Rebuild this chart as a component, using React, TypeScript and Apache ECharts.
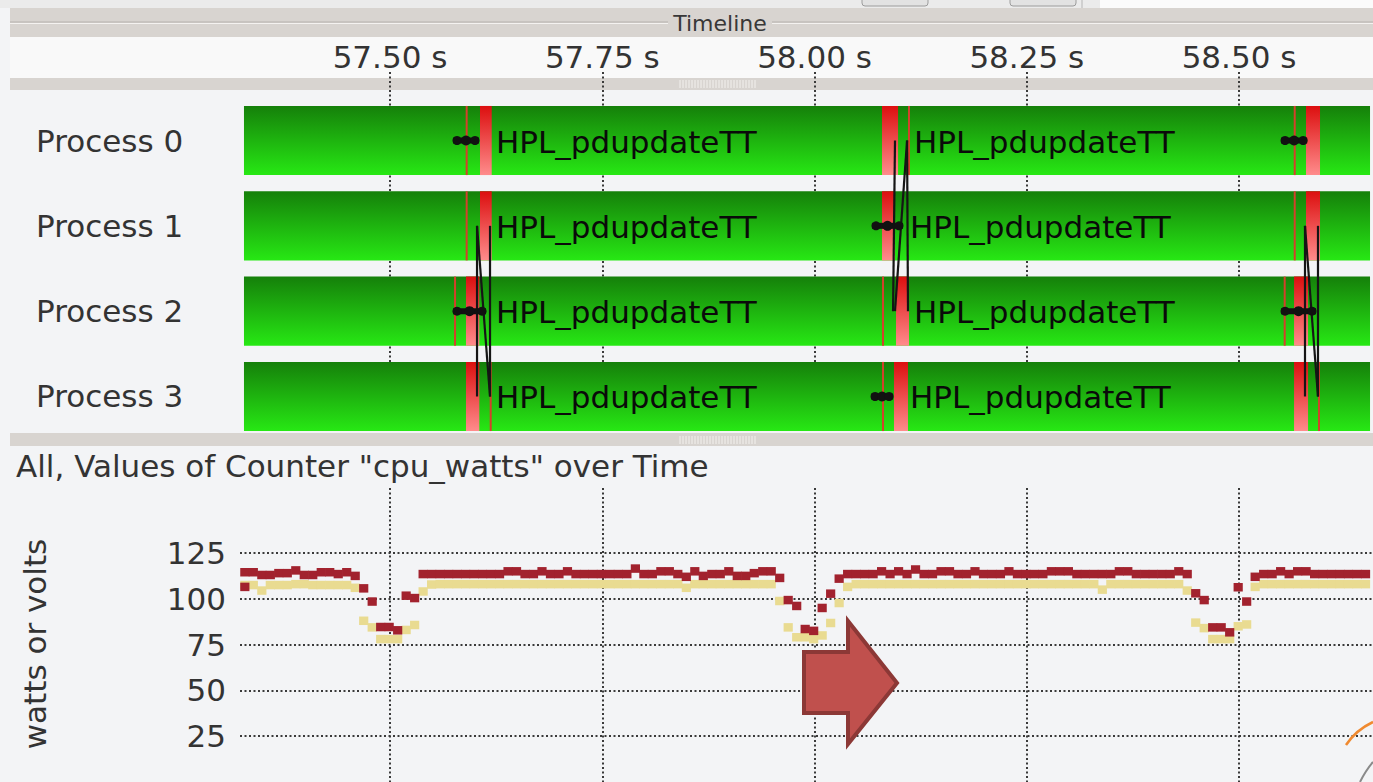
import React, { useEffect, useRef } from 'react';
import * as echarts from 'echarts';

const FONT = 'DejaVu Sans';

// ---- timeline (top) ----
const PROCESSES = ['Process 0', 'Process 1', 'Process 2', 'Process 3'];
const FUNCTION_NAME = 'HPL_pdupdateTT';
const TICK_INTERVAL = 0.25;
const VIEW_START = 57.25; // multiple of the tick interval (left of the visible trace)
const VIEW_END = 58.6578;
const CHART_START = 57.3233;
const TRACE_START = 57.328;
const TRACE_END = 58.6543;

// [process, start s, end s]
const MPI_BLOCKS = [
  [0, 57.606, 57.6198], [0, 58.0795, 58.0984], [0, 58.5789, 58.5954],
  [1, 57.606, 57.6198], [1, 58.0795, 58.0948], [1, 58.5789, 58.5954],
  [2, 57.5895, 57.6052], [2, 58.096, 58.1113], [2, 58.5648, 58.5813],
  [3, 57.5895, 57.6052], [3, 58.0936, 58.1101], [3, 58.5648, 58.5813],
];
// [process, time s]
const MPI_EDGES = [
  [0, 57.5903], [0, 58.1113], [0, 58.5656],
  [1, 57.5903], [1, 58.5656],
  [2, 57.5766], [2, 58.0807], [2, 58.5538],
  [3, 57.6186], [3, 58.0807], [3, 58.5942],
];
// [process, time s]
const FUNCTION_LABELS = [
  [0, 57.6249], [0, 58.1172],
  [1, 57.6249], [1, 58.1125],
  [2, 57.6249], [2, 58.1172],
  [3, 57.6249], [3, 58.1125],
];
// [process, start s, end s]
const COLLECTIVES = [
  [0, 57.5742, 57.6048], [0, 58.5495, 58.5802],
  [1, 58.0677, 58.1042],
  [2, 57.5742, 57.6131], [2, 58.5495, 58.5907],
  [3, 58.0666, 58.0925],
];
// [from process, send s, to process, receive s]
const MESSAGES = [
  [1, 57.6025, 3, 57.6025], [1, 57.6178, 3, 57.6178], [1, 57.6025, 3, 57.6178],
  [0, 58.0948, 2, 58.0925], [0, 58.109, 2, 58.1101], [0, 58.109, 2, 58.0948],
  [1, 58.5777, 3, 58.5777], [1, 58.593, 3, 58.593], [1, 58.5777, 3, 58.593],
];

// ---- counter chart (bottom) ----
const SAMPLE_START = 57.329;
const SAMPLE_STEP = 0.01;
const CPU_WATTS_A = [
  114.5, 114.5, 113, 113, 114, 114, 115.5, 113, 113, 114.5,
  114.5, 113.5, 114.5, 112.5, 105.7, 98.5, 84.6, 84.6, 82.8, 101.7,
  100.4, 113.5, 113.5, 113.5, 113.5, 113.5, 113.5, 113.5, 113.5, 113.5,
  113.5, 115, 115, 113.5, 113.5, 115, 113.5, 113.5, 115, 113.5,
  113.5, 113.5, 113.5, 113.5, 113.5, 113.5, 116.5, 113.5, 113.5, 115,
  115, 113.5, 112, 115, 112.5, 113.5, 113.5, 115, 112.5, 112.5,
  114, 115, 115, 111.4, 99.3, 96.1, 83.5, 82.5, 95, 102.8,
  111, 113.5, 113.5, 113.5, 113.5, 115, 113.5, 115, 113.5, 116,
  113.5, 113.5, 115, 115, 113.5, 113.5, 115, 113.5, 113.5, 113.5,
  115, 113.5, 113.5, 113.5, 113.5, 115, 115, 115, 113.5, 113.5,
  113.5, 113.5, 113.5, 115, 115, 113.5, 113.5, 113.5, 113.5, 113.5,
  115, 113.5, 103, 99.3, 84.4, 84.4, 81.7, 106.3, 98.5, 112,
  113.5, 113.5, 115, 113.5, 115, 115, 113.5, 113.5, 113.5, 113.5,
  113.5, 113.5, 113.5,
];
const CPU_WATTS_B = [
  107.5, 107.5, 104.5, 107.5, 107.5, 107.5, 108, 108, 107.5, 107.5,
  107.5, 107.5, 107.5, 106, 88, 84.4, 78, 78, 78, 83,
  85.7, 104, 107.8, 108, 108, 108, 108, 108, 108, 108,
  108, 108, 108, 108, 108, 108, 108, 108, 108, 108,
  108, 108, 108, 108, 108, 108, 108, 108, 108, 108,
  108, 108, 106, 108, 108, 108, 108, 108, 108, 108,
  108, 108, 108, 98.8, 84.4, 79, 79, 78, 80, 86.8,
  97.7, 106.5, 108, 108, 108, 108, 108, 108, 108, 108,
  108, 108, 108, 108, 108, 108, 108, 108, 108, 108,
  108, 108, 108, 108, 108, 108, 108, 108, 108, 108,
  108, 105, 108, 108, 108, 108, 108, 108, 108, 108,
  108, 104.5, 87, 84, 78, 78, 78, 85, 86, 106.5,
  108, 108, 108, 108, 108, 108, 108, 108, 108, 108,
  108, 108, 108,
];
const CPU_WATTS_A_EXTRA = [[57.329, 106.5]];
const Y_MIN = 0;
const Y_MAX = 125;
const Y_INTERVAL = 25;

const TITLE = 'All, Values of Counter "cpu_watts" over Time';
const Y_NAME = 'watts or volts';

const dotted = { type: [2, 2.5], width: 2, color: '#3a3a3a' };

function buildOption(): any {
  const fmt = (v: number) => v.toFixed(2) + ' s';
  const green = () =>
    new echarts.graphic.LinearGradient(0, 0, 0, 1, [
      { offset: 0, color: '#15800a' },
      { offset: 1, color: '#27e814' },
    ]);
  const red = () =>
    new echarts.graphic.LinearGradient(0, 0, 0, 1, [
      { offset: 0, color: '#dc0f0f' },
      { offset: 1, color: '#ff8c8c' },
    ]);
  const BAR_FRAC = 0.81;

  const grip = (y: number, h: number) => {
    const out: any[] = [];
    for (let x = 680; x <= 755; x += 3) {
      out.push({ type: 'line', silent: true, z: -9, shape: { x1: x, y1: y, x2: x, y2: y + h }, style: { stroke: '#f3f1ee', lineWidth: 1 } });
    }
    return out;
  };

  const graphics: any[] = [
    { type: 'rect', silent: true, z: -10, shape: { x: 0, y: 0, width: 1100, height: 8 }, style: { fill: '#ebebeb' } },
    { type: 'rect', silent: true, z: -10, shape: { x: 1100, y: 0, width: 273, height: 8 }, style: { fill: '#fbfbfb' } },
    { type: 'rect', silent: true, z: -9, shape: { x: 862, y: -5, width: 66, height: 11, r: 3 }, style: { fill: '#e2e2e2', stroke: '#9c9c9c', lineWidth: 1 } },
    { type: 'rect', silent: true, z: -9, shape: { x: 1010, y: -5, width: 66, height: 11, r: 3 }, style: { fill: '#e2e2e2', stroke: '#9c9c9c', lineWidth: 1 } },
    { type: 'line', silent: true, z: -9, shape: { x1: 1082, y1: 0, x2: 1082, y2: 8 }, style: { stroke: '#b5b5b5', lineWidth: 1 } },
    { type: 'rect', silent: true, z: -10, shape: { x: 10, y: 8, width: 1363, height: 29 }, style: { fill: '#d8d4d0' } },
    { type: 'line', silent: true, z: -9, shape: { x1: 10, y1: 22, x2: 668, y2: 22 }, style: { stroke: '#b7b3af', lineWidth: 1 } },
    { type: 'line', silent: true, z: -9, shape: { x1: 10, y1: 23.5, x2: 668, y2: 23.5 }, style: { stroke: '#f4f2f0', lineWidth: 1 } },
    { type: 'line', silent: true, z: -9, shape: { x1: 772, y1: 22, x2: 1373, y2: 22 }, style: { stroke: '#b7b3af', lineWidth: 1 } },
    { type: 'line', silent: true, z: -9, shape: { x1: 772, y1: 23.5, x2: 1373, y2: 23.5 }, style: { stroke: '#f4f2f0', lineWidth: 1 } },
    { type: 'text', silent: true, z: 5, x: 720, y: 23, style: { text: 'Timeline', fontSize: 22, fontFamily: FONT, fill: '#383838', align: 'center', verticalAlign: 'middle', textAlign: 'center', textVerticalAlign: 'middle' } },
    { type: 'rect', silent: true, z: -10, shape: { x: 10, y: 37, width: 1363, height: 41 }, style: { fill: '#f9f9f9' } },
    { type: 'rect', silent: true, z: -10, shape: { x: 10, y: 78, width: 1363, height: 12 }, style: { fill: '#d8d4d0' } },
    ...grip(80, 8),
    { type: 'rect', silent: true, z: -10, shape: { x: 10, y: 433, width: 1363, height: 13 }, style: { fill: '#d8d4d0' } },
    ...grip(436, 8),
    { type: 'text', silent: true, z: 5, x: 16, y: 466, style: { text: TITLE, fontSize: 31, fontFamily: FONT, fill: '#333', align: 'left', verticalAlign: 'middle', textAlign: 'left', textVerticalAlign: 'middle' } },
    { type: 'text', silent: true, z: 5, x: 35, y: 644, rotation: Math.PI / 2, style: { text: Y_NAME, fontSize: 31, fontFamily: FONT, fill: '#333', align: 'center', verticalAlign: 'middle', textAlign: 'center', textVerticalAlign: 'middle' } },
    // annotation arrow
    { type: 'polygon', silent: true, z: 100, shape: { points: [[804, 652], [848, 652], [848, 621], [897, 683], [848, 744], [848, 713], [804, 713]] }, style: { fill: '#c0504d', stroke: '#8c3836', lineWidth: 4, lineJoin: 'miter' } },
    // wallpaper fragments in the corner
    { type: 'bezierCurve', silent: true, z: 50, shape: { x1: 1346, y1: 745, x2: 1373, y2: 722, cpx1: 1356, cpy1: 730 }, style: { stroke: '#f08a30', lineWidth: 2.5, fill: 'none' } },
    { type: 'bezierCurve', silent: true, z: 50, shape: { x1: 1360, y1: 782, x2: 1373, y2: 762, cpx1: 1366, cpy1: 770 }, style: { stroke: '#8a8a8a', lineWidth: 2, fill: 'none' } },
  ];

  return {
    animation: false,
    backgroundColor: '#f3f4f6',
    textStyle: { fontFamily: FONT },
    graphic: { elements: graphics },
    grid: [
      { left: 177.75, right: 0, top: 72, height: 359 },
      { left: 177.75, right: 0, top: 97.85, height: 341.3 },
      { left: 177.75, right: 0, top: 488, height: 294 },
      { left: 240, right: 0, top: 553, height: 233.75 },
    ],
    xAxis: [
      {
        type: 'value', gridIndex: 0, position: 'top', min: VIEW_START, max: VIEW_END, interval: TICK_INTERVAL,
        axisLine: { show: false }, axisTick: { show: false },
        axisLabel: { formatter: fmt, fontSize: 31, color: '#333', fontFamily: FONT, margin: 0, showMinLabel: false, showMaxLabel: false },
        splitLine: { show: true, lineStyle: dotted, showMinLine: false, showMaxLine: false },
      },
      { type: 'value', gridIndex: 1, min: VIEW_START, max: VIEW_END, show: false, splitLine: { show: false } },
      {
        type: 'value', gridIndex: 2, min: VIEW_START, max: VIEW_END, interval: TICK_INTERVAL,
        axisLine: { show: false }, axisTick: { show: false }, axisLabel: { show: false },
        splitLine: { show: true, lineStyle: dotted, showMinLine: false, showMaxLine: false },
      },
      { type: 'value', gridIndex: 3, min: CHART_START, max: VIEW_END, show: false, splitLine: { show: false } },
    ],
    yAxis: [
      { type: 'value', gridIndex: 0, min: 0, max: 1, show: false, splitLine: { show: false } },
      {
        type: 'category', gridIndex: 1, data: PROCESSES, inverse: true,
        axisLine: { show: false }, axisTick: { show: false }, splitLine: { show: false },
        axisLabel: { margin: 141.75, align: 'left', fontSize: 31, color: '#333', fontFamily: FONT },
      },
      { type: 'value', gridIndex: 2, min: 0, max: 1, show: false, splitLine: { show: false } },
      {
        type: 'value', gridIndex: 3, min: Y_MIN, max: Y_MAX, interval: Y_INTERVAL,
        axisLine: { show: false }, axisTick: { show: false },
        axisLabel: { fontSize: 31, color: '#333', fontFamily: FONT, margin: 14, showMinLabel: false },
        splitLine: { show: true, lineStyle: dotted, showMinLine: false },
      },
    ],
    series: [
      {
        type: 'custom', name: 'trace', xAxisIndex: 1, yAxisIndex: 1, encode: { x: [1, 2], y: 0 },
        data: PROCESSES.map((_, i) => [i, TRACE_START, TRACE_END]),
        renderItem: (_p: any, api: any) => {
          const s = api.coord([api.value(1), api.value(0)]);
          const e = api.coord([api.value(2), api.value(0)]);
          const h = api.size([0, 1])[1] * BAR_FRAC;
          return { type: 'rect', shape: { x: s[0], y: s[1] - h / 2, width: e[0] - s[0], height: h }, style: { fill: green() } };
        },
      },
      {
        type: 'custom', name: 'mpi', xAxisIndex: 1, yAxisIndex: 1, encode: { x: [1, 2], y: 0 }, z: 3,
        data: MPI_BLOCKS,
        renderItem: (_p: any, api: any) => {
          const s = api.coord([api.value(1), api.value(0)]);
          const e = api.coord([api.value(2), api.value(0)]);
          const h = api.size([0, 1])[1] * BAR_FRAC;
          return { type: 'rect', shape: { x: s[0], y: s[1] - h / 2, width: e[0] - s[0], height: h }, style: { fill: red() } };
        },
      },
      {
        type: 'custom', name: 'edges', xAxisIndex: 1, yAxisIndex: 1, encode: { x: 1, y: 0 }, z: 3,
        data: MPI_EDGES,
        renderItem: (_p: any, api: any) => {
          const s = api.coord([api.value(1), api.value(0)]);
          const h = api.size([0, 1])[1] * BAR_FRAC;
          return { type: 'rect', shape: { x: s[0] - 1, y: s[1] - h / 2, width: 2, height: h }, style: { fill: '#d4402c' } };
        },
      },
      {
        type: 'custom', name: 'labels', xAxisIndex: 1, yAxisIndex: 1, encode: { x: 1, y: 0 }, z: 4,
        data: FUNCTION_LABELS,
        renderItem: (_p: any, api: any) => {
          const s = api.coord([api.value(1), api.value(0)]);
          return {
            type: 'text', x: s[0], y: s[1] + 1,
            style: { text: FUNCTION_NAME, fill: '#0a0a0a', fontSize: 31, fontFamily: FONT, align: 'left', verticalAlign: 'middle', textAlign: 'left', textVerticalAlign: 'middle' },
          };
        },
      },
      {
        type: 'custom', name: 'messages', xAxisIndex: 1, yAxisIndex: 1, encode: { x: [1, 3], y: [0, 2] }, z: 5,
        data: MESSAGES,
        renderItem: (_p: any, api: any) => {
          const a = api.coord([api.value(1), api.value(0)]);
          const b = api.coord([api.value(3), api.value(2)]);
          return { type: 'line', shape: { x1: a[0], y1: a[1], x2: b[0], y2: b[1] }, style: { stroke: '#151515', lineWidth: 2.2 } };
        },
      },
      {
        type: 'custom', name: 'collectives', xAxisIndex: 1, yAxisIndex: 1, encode: { x: [1, 2], y: 0 }, z: 6,
        data: COLLECTIVES,
        renderItem: (_p: any, api: any) => {
          const s = api.coord([api.value(1), api.value(0)]);
          const e = api.coord([api.value(2), api.value(0)]);
          const m = (s[0] + e[0]) / 2;
          return {
            type: 'group',
            children: [
              { type: 'rect', shape: { x: s[0], y: s[1] - 3, width: e[0] - s[0], height: 6 }, style: { fill: '#111' } },
              { type: 'circle', shape: { cx: s[0] + 4, cy: s[1], r: 4.5 }, style: { fill: '#111' } },
              { type: 'circle', shape: { cx: m, cy: s[1], r: 5 }, style: { fill: '#111' } },
              { type: 'circle', shape: { cx: e[0] - 4, cy: s[1], r: 4.5 }, style: { fill: '#111' } },
            ],
          };
        },
      },
      {
        type: 'scatter', name: 'cpu_watts B', xAxisIndex: 3, yAxisIndex: 3, symbol: 'rect', symbolSize: [9.2, 8.5],
        itemStyle: { color: '#e9db91', opacity: 1 }, z: 3,
        data: CPU_WATTS_B.map((v, k) => [SAMPLE_START + k * SAMPLE_STEP, v]),
      },
      {
        type: 'scatter', name: 'cpu_watts A', xAxisIndex: 3, yAxisIndex: 3, symbol: 'rect', symbolSize: [9.2, 8.5],
        itemStyle: { color: '#a2222e', opacity: 1 }, z: 4,
        data: CPU_WATTS_A.map((v, k) => [SAMPLE_START + k * SAMPLE_STEP, v]).concat(CPU_WATTS_A_EXTRA),
      },
    ],
  };
}

export default function App() {
  const ref = useRef<HTMLDivElement>(null);
  useEffect(() => {
    document.body.style.margin = '0';
    const chart = echarts.init(ref.current as HTMLDivElement, null, { renderer: 'svg' });
    chart.setOption(buildOption());
    return () => chart.dispose();
  }, []);
  return <div ref={ref} style={{ width: 1373, height: 782 }} />;
}
